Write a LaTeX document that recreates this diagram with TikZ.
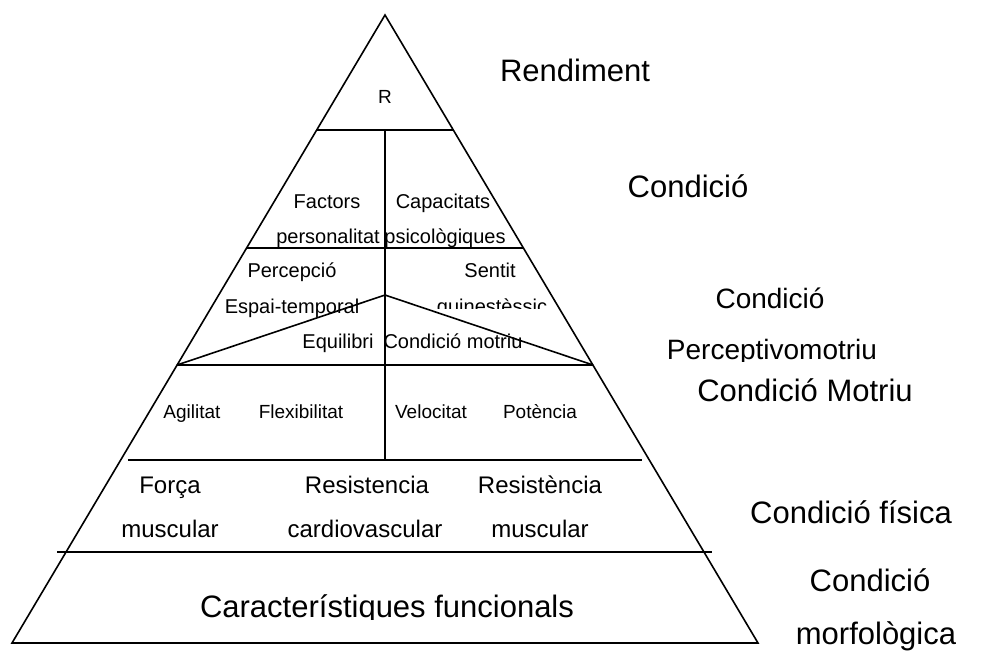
\documentclass[tikz,border=0pt]{standalone}
\usepackage{fontspec}
\setmainfont{Liberation Sans}
\begin{document}
\begin{tikzpicture}[x=1pt,y=-1pt,line width=1.6pt,line join=miter,
  lbl/.style={anchor=base,inner sep=0pt,outer sep=0pt},
  sm/.style={lbl,font=\fontsize{20}{24}\selectfont},
  xs/.style={lbl,font=\fontsize{19}{23}\selectfont},
  md/.style={lbl,font=\fontsize{24}{28}\selectfont},
  lg/.style={lbl,font=\fontsize{31}{36}\selectfont},
  lgb/.style={lbl,font=\fontsize{28}{33}\selectfont}]
\useasboundingbox (0,0) rectangle (982,651);

% pyramid outline
\coordinate (apex) at (385,15);
\coordinate (bl) at (12,643);
\coordinate (br) at (758,643);
\draw (bl) -- (apex) -- (br) -- cycle;

% level dividers
\coordinate (l1a) at (317,130); \coordinate (l1b) at (453,130);
\coordinate (l2a) at (247,248); \coordinate (l2b) at (523,248);
\coordinate (l3a) at (177,365); \coordinate (l3b) at (593,365);
\coordinate (l4a) at (128,460); \coordinate (l4b) at (642,460);
\coordinate (l5a) at (57,552);  \coordinate (l5b) at (712,552);
\draw (l1a) -- (l1b);
\draw (l2a) -- (l2b);
\draw (l3a) -- (l3b);
\draw (l4a) -- (l4b);
\draw (l5a) -- (l5b);

% central split and inner triangle
\coordinate (vtop) at (385,130);
\coordinate (vbot) at (385,460);
\coordinate (tip) at (385,295);
\draw (vtop) -- (vbot);
\draw (l3a) -- (tip) -- (l3b);

% labels inside the pyramid
\node[xs] (r) at (385,103) {R};
\node[sm] (fac) at (327,208) {Factors};
\node[sm] (pers) at (328,243) {personalitat};
\node[sm] (cap) at (443,208) {Capacitats};
\node[sm] (psi) at (445,243) {psicològiques};
\node[sm] (perc) at (292,277) {Percepció};
\node[sm] (esp) at (292,313) {Espai-temporal};
\node[sm] (sen) at (490,277) {Sentit};
\begin{scope}
  \clip (420,290) rectangle (570,308);
  \node[sm] (qui) at (492,313) {quinestèssic};
\end{scope}
\node[sm] (equ) at (338,348) {Equilibri};
\node[sm] (cmo) at (453,348) {Condició motriu};
\node[xs] (agi) at (192,418) {Agilitat};
\node[xs] (fle) at (301,418) {Flexibilitat};
\node[xs] (vel) at (431,418) {Velocitat};
\node[xs] (pot) at (540,418) {Potència};
\node[md] (for) at (170,493) {Força};
\node[md] (mus1) at (170,537) {muscular};
\node[md] (res1) at (367,493) {Resistencia};
\node[md] (car) at (365,537) {cardiovascular};
\node[md] (res2) at (540,493) {Resistència};
\node[md] (mus2) at (540,537) {muscular};
\begin{scope}
  \clip (150,580) rectangle (620,619);
  \node[lg] (fun) at (387,617) {Característiques funcionals};
\end{scope}

% level names on the right
\node[lg] (ren) at (575,81) {Rendiment};
\node[lg] (con) at (688,197) {Condició};
\node[lgb] (cpm) at (770,308) {Condició};
\begin{scope}
  \clip (650,320) rectangle (900,361);
  \node[lgb] (ptm) at (772,359) {Perceptivomotriu};
\end{scope}
\node[lg] (cmt) at (805,401) {Condició Motriu};
\node[lg] (cfi) at (851,523) {Condició física};
\node[lg] (cmf) at (870,591) {Condició};
\node[lg] (mrf) at (876,644) {morfològica};
\end{tikzpicture}
\end{document}
